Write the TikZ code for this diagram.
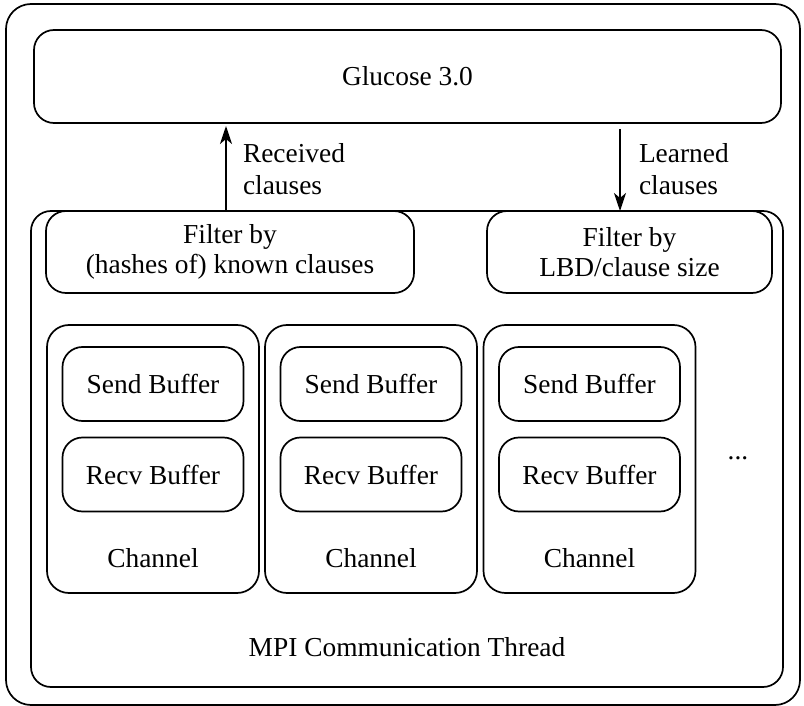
\documentclass[tikz,border=0pt]{standalone}
\usepackage{fontspec}
\setmainfont{Liberation Serif}
\usetikzlibrary{arrows.meta,calc}
\begin{document}
\begin{tikzpicture}[x=0.5pt,y=-0.5pt,
  every node/.style={font=\fontsize{13.7}{15.2}\selectfont, inner sep=0pt, outer sep=0pt},
  rbox/.style={draw, line width=0.85pt, rounded corners=10pt, align=center},
  chanbox/.style={rbox, rounded corners=11pt, minimum width=106pt, minimum height=134pt},
  bufbox/.style={rbox, minimum width=90.5pt, minimum height=37pt},
  txt/.style={align=center},
  lbl/.style={align=left, anchor=west, font=\fontsize{13.7}{16}\selectfont},
  arr/.style={line width=0.85pt, -{Stealth[length=9pt,width=6pt,inset=2.5pt]}}
]
\useasboundingbox (0,0) rectangle (804,706);
\node[rbox, rounded corners=12.5pt, minimum width=397pt, minimum height=350.5pt] (outer) at (403,354.5) {};
\node[rbox, minimum width=373.5pt, minimum height=46.5pt] (glucose) at (407.5,76.5) {Glucose 3.0};
\node[rbox, minimum width=376pt, minimum height=238pt] (mpi) at (407,449) {};
\node[txt] (mpilabel) at (407,647) {MPI Communication Thread};
\node[rbox, fill=white, minimum width=184pt, minimum height=41pt] (filterL) at (230,252) {Filter by\\(hashes of) known clauses};
\node[rbox, fill=white, minimum width=142.5pt, minimum height=41pt] (filterR) at (629.5,252) {Filter by\\LBD/clause size};
\foreach \i/\cx in {1/153, 2/371, 3/589.5} {
  \node[chanbox] (ch\i) at (\cx,459) {};
  \node[bufbox] (send\i) at (\cx,384) {Send Buffer};
  \node[bufbox] (recv\i) at (\cx,474.5) {Recv Buffer};
  \node[txt] (chl\i) at (\cx,558) {Channel};
}
\node[txt] (dots) at (738,458) {...};
\draw[arr] ([xshift=-2pt]filterL.north) -- ([xshift=-2pt,yshift=-1.5pt]filterL.north |- glucose.south);
\draw[arr] ([xshift=-4.75pt,yshift=-3pt]filterR.north |- glucose.south) -- ([xshift=-4.75pt]filterR.north);
\node[lbl] (reclbl) at (243,169) {Received\\clauses};
\node[lbl] (learnlbl) at (639,169) {Learned\\clauses};
\end{tikzpicture}
\end{document}
